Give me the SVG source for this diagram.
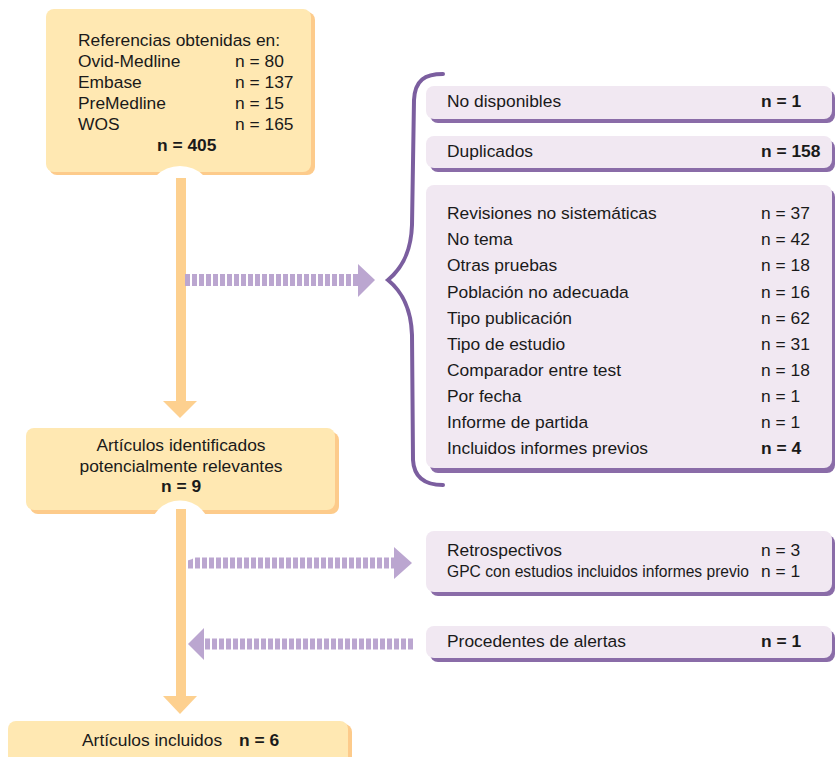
<svg xmlns="http://www.w3.org/2000/svg" width="835" height="757" viewBox="0 0 835 757">
<defs>
<style>
text{font-family:"Liberation Sans",Arial,sans-serif;font-size:17.4px;fill:#1a1a1a}
.b{font-weight:bold}
.c{text-anchor:middle}
.sm{font-size:15.6px}
.of{fill:#FFE8B2}
.os{fill:#FDCB8B}
.pf{fill:#F1E8F2}
.ps{fill:#8A6CA8}
.bar{fill:#FDD08F}
.dash{stroke:#BBA6D0;stroke-dasharray:5 2;fill:none}
.head{fill:#BBA6D0}
.brace{fill:none;stroke:#7B5E9F;stroke-width:4;stroke-linecap:round}
</style>
</defs>
<rect width="835" height="757" fill="#ffffff"/>

<g id="connectors">
<rect class="bar" x="176" y="178" width="10" height="224"/>
<polygon class="bar" points="163,401 197,401 180,418"/>
<rect class="bar" x="176" y="509" width="10" height="188"/>
<polygon class="bar" points="163,696 197,696 180,714"/>
<line class="dash" x1="185" y1="280" x2="358" y2="280" stroke-width="12"/>
<polygon class="head" points="358,264 375,280 358,297"/>
<line class="dash" x1="188" y1="563" x2="394" y2="563" stroke-width="11"/>
<polygon class="head" points="394,547 412,563 394,579"/>
<line class="dash" x1="413" y1="644" x2="204" y2="644" stroke-width="11"/>
<polygon class="head" points="204,628 188,644 204,660"/>
<path class="brace" d="M443,74 C425,74 415,80 414,100 L412,225 C411,255 400,270 388,280 C400,290 411,305 412,335 L413,460 C414,478 425,485 443,485"/>
</g>

<g id="sources">
<rect class="os" x="49" y="12" width="266" height="163" rx="8"/>
<rect class="of" x="46" y="9" width="265" height="163" rx="8"/>
<circle cx="180" cy="200" r="34" fill="#ffffff"/>
<rect class="bar" x="176" y="178" width="10" height="60"/>
<text x="78" y="46">Referencias obtenidas en:</text>
<text x="78" y="67">Ovid-Medline</text><text x="235" y="67">n = 80</text>
<text x="78" y="88">Embase</text><text x="235" y="88">n = 137</text>
<text x="78" y="109">PreMedline</text><text x="235" y="109">n = 15</text>
<text x="78" y="130">WOS</text><text x="235" y="130">n = 165</text>
<text class="b" x="157" y="151">n = 405</text>
</g>

<g id="identified">
<rect class="os" x="30" y="432" width="309" height="82" rx="8"/>
<rect class="of" x="26" y="428" width="309" height="82" rx="8"/>
<circle cx="180" cy="531" r="30.5" fill="#ffffff"/>
<rect class="bar" x="176" y="509" width="10" height="60"/>
<text class="c" x="181" y="451">Artículos identificados</text>
<text class="c" x="181" y="472">potencialmente relevantes</text>
<text class="b c" x="181" y="492">n = 9</text>
</g>

<g id="included">
<rect class="os" x="12" y="724" width="340" height="50" rx="8"/>
<rect class="of" x="8" y="721" width="340" height="50" rx="8"/>
<text x="82" y="746">Artículos incluidos</text>
<text class="b" x="239" y="746">n = 6</text>
</g>

<g id="no-disponibles">
<rect class="ps" x="430" y="90" width="405" height="33" rx="8"/>
<rect class="pf" x="426" y="86" width="406" height="33" rx="8"/>
<text x="447" y="107">No disponibles</text>
<text class="b" x="761" y="107">n = 1</text>
</g>

<g id="duplicados">
<rect class="ps" x="430" y="140" width="405" height="32" rx="8"/>
<rect class="pf" x="426" y="136" width="406" height="32" rx="8"/>
<text x="447" y="157">Duplicados</text>
<text class="b" x="761" y="157">n = 158</text>
</g>

<g id="excluidos">
<rect class="ps" x="430" y="189" width="405" height="284" rx="8"/>
<rect class="pf" x="426" y="185" width="406" height="283" rx="8"/>
<text x="447" y="219">Revisiones no sistemáticas</text><text x="761" y="219">n = 37</text>
<text x="447" y="245">No tema</text><text x="761" y="245">n = 42</text>
<text x="447" y="271">Otras pruebas</text><text x="761" y="271">n = 18</text>
<text x="447" y="298">Población no adecuada</text><text x="761" y="298">n = 16</text>
<text x="447" y="324">Tipo publicación</text><text x="761" y="324">n = 62</text>
<text x="447" y="350">Tipo de estudio</text><text x="761" y="350">n = 31</text>
<text x="447" y="376">Comparador entre test</text><text x="761" y="376">n = 18</text>
<text x="447" y="402">Por fecha</text><text x="761" y="402">n = 1</text>
<text x="447" y="428">Informe de partida</text><text x="761" y="428">n = 1</text>
<text x="447" y="454">Incluidos informes previos</text><text class="b" x="761" y="454">n = 4</text>
</g>

<g id="retrospectivos">
<rect class="ps" x="430" y="535" width="405" height="61" rx="8"/>
<rect class="pf" x="426" y="531" width="406" height="61" rx="8"/>
<text x="447" y="556">Retrospectivos</text><text x="761" y="556">n = 3</text>
<text class="sm" x="447" y="577" textLength="302" lengthAdjust="spacingAndGlyphs">GPC con estudios incluidos informes previo</text><text x="761" y="577">n = 1</text>
</g>

<g id="alertas">
<rect class="ps" x="430" y="630" width="405" height="32" rx="8"/>
<rect class="pf" x="426" y="626" width="406" height="32" rx="8"/>
<text x="447" y="647">Procedentes de alertas</text>
<text class="b" x="761" y="647">n = 1</text>
</g>
</svg>
